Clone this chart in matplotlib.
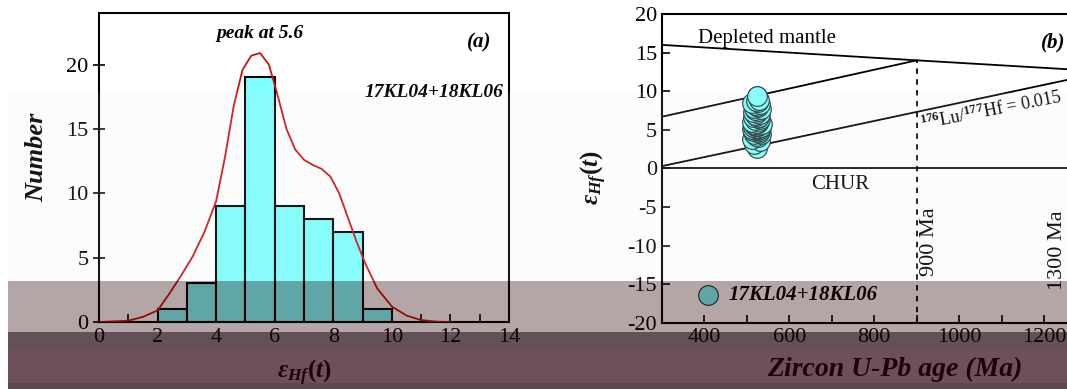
import matplotlib
matplotlib.use("Agg")
import matplotlib.pyplot as plt
from matplotlib.patches import Rectangle
from matplotlib.ticker import MultipleLocator

plt.rcParams['font.family'] = ['Liberation Serif', 'DejaVu Serif']
plt.rcParams['axes.unicode_minus'] = False
plt.rcParams['mathtext.fontset'] = 'custom'
plt.rcParams['mathtext.it'] = 'Liberation Serif:italic:bold'
plt.rcParams['mathtext.rm'] = 'Liberation Serif:bold'
plt.rcParams['mathtext.bf'] = 'Liberation Serif:bold'

# zircon eHf(t) values (17KL04 + 18KL06)
eps_hf = [2.7,
          3.2, 3.5, 3.8,
          4.1, 4.2, 4.4, 4.5, 4.6, 4.7, 4.8, 4.9, 4.95,
          5.0, 5.05, 5.1, 5.15, 5.2, 5.25, 5.3, 5.35, 5.4, 5.45,
          5.5, 5.55, 5.6, 5.65, 5.7, 5.75, 5.8, 5.85, 5.9,
          6.05, 6.15, 6.3, 6.4, 6.5, 6.6, 6.7, 6.8, 6.9,
          7.1, 7.2, 7.35, 7.5, 7.6, 7.7, 7.8, 7.9,
          8.1, 8.2, 8.35, 8.5, 8.6, 8.75, 8.9,
          9.4]
# U-Pb ages (Ma)
ages = [524, 517, 530, 513, 526, 521, 534, 516, 528, 523,
        515, 532, 520, 527, 512, 525, 531, 518, 529, 522,
        514, 533, 519, 526, 524, 516, 530, 521, 535, 517,
        527, 523, 513, 529, 520, 532, 525, 515, 528, 522,
        518, 531, 524, 514, 527, 520, 533, 516, 526, 523,
        519, 530, 512, 525, 521, 529, 524]
hist_bins = [2, 3, 4, 5, 6, 7, 8, 9, 10]

# probability density curve
kde_x = [0, 1.0, 1.5, 2.0, 2.4, 2.8, 3.2, 3.6, 4.0, 4.3, 4.6, 4.9, 5.2, 5.5,
         5.8, 6.1, 6.4, 6.7, 7.0, 7.3, 7.6, 7.9, 8.2, 8.5, 8.8, 9.1, 9.5,
         10.0, 10.5, 11.0, 11.5, 12.0]
kde_y = [0, 0.1, 0.4, 0.9, 2.2, 3.6, 5.1, 7.0, 9.4, 12.8, 16.8, 19.6, 20.7,
         20.9, 20.0, 17.6, 15.0, 13.4, 12.6, 12.2, 11.9, 11.3, 10.0, 8.1,
         6.2, 4.5, 2.6, 1.2, 0.5, 0.15, 0.03, 0]

# evolution lines, panel b
dm_age = [300, 900, 1300]
dm_eps = [16.0, 14.0, 12.7]
crust1_age = [300, 900]
crust1_eps = [6.7, 14.0]
crust2_age = [300, 1300]
crust2_eps = [0.3, 12.0]
model_age1 = 900
model_age2 = 1300

fig = plt.figure(figsize=(10.67, 3.89), dpi=100)

# ---------------- (a) histogram ----------------
ax1 = fig.add_axes([0.0928, 0.1722, 0.3843, 0.794])
ax1.hist(eps_hf, bins=hist_bins, facecolor='#80FFFF', edgecolor='black',
         linewidth=1.5, zorder=2)
ax1.plot(kde_x, kde_y, color='#CC1111', lw=1.3, zorder=3)
ax1.set_xlim(0, 14)
ax1.set_ylim(0, 24)
ax1.set_xticks([0, 2, 4, 6, 8, 10, 12, 14])
ax1.set_yticks([0, 5, 10, 15, 20])
ax1.xaxis.set_minor_locator(MultipleLocator(1))
ax1.tick_params(axis='x', which='both', direction='in', labelsize=16,
                length=6, width=1.2, pad=4)
ax1.tick_params(axis='y', direction='inout', labelsize=16, length=9,
                width=1.2, pad=3)
for s in ax1.spines.values():
    s.set_linewidth(1.5)
ax1.set_xlabel(r'$\varepsilon_{Hf}(t)$', fontsize=18, labelpad=8)
ax1.set_ylabel('Number', fontsize=19, fontweight='bold', style='italic')
ax1.yaxis.set_label_coords(-0.125, 0.534)
ax1.text(5.5, 22.4, 'peak at 5.6', ha='center', va='center', fontsize=14,
         fontweight='bold', style='italic')
ax1.text(13.4, 21.7, '(a)', ha='right', va='center', fontsize=15,
         fontweight='bold', style='italic')
ax1.text(13.8, 17.8, '17KL04+18KL06', ha='right', va='center', fontsize=14,
         fontweight='bold', style='italic')

# ---------------- (b) eHf(t) vs age ----------------
ax2 = fig.add_axes([0.6204, 0.170, 0.398, 0.794])
ax2.plot(dm_age, dm_eps, color='black', lw=1.3)
ax2.plot(crust1_age, crust1_eps, color='black', lw=1.3)
ax2.plot(crust2_age, crust2_eps, color='black', lw=1.3)
ax2.axhline(0, color='black', lw=1.3)
ax2.plot([model_age1, model_age1], [-20, dm_eps[1]], color='black', lw=1.3,
         ls=(0, (3, 3)))
ax2.plot([model_age2, model_age2], [-20, dm_eps[2]], color='black', lw=1.3,
         ls=(0, (3, 3)))
ax2.scatter(ages, eps_hf, s=200, facecolor='#80FFFF', edgecolor='#1A3333',
            linewidth=0.8, zorder=4, label='17KL04+18KL06')
ax2.set_xlim(300, 1300)
ax2.set_ylim(-20, 20)
ax2.set_xticks([400, 600, 800, 1000, 1200])
ax2.set_yticks([-20, -15, -10, -5, 0, 5, 10, 15, 20])
ax2.xaxis.set_minor_locator(MultipleLocator(100))
ax2.tick_params(axis='both', which='both', direction='in', labelsize=16,
                length=6, width=1.2)
for s in ax2.spines.values():
    s.set_linewidth(1.5)
ax2.set_xlabel('Zircon U-Pb age (Ma)', fontsize=20, fontweight='bold',
               style='italic')
ax2.xaxis.set_label_coords(0.548, -0.11)
ax2.set_ylabel(r'$\varepsilon_{Hf}(t)$', fontsize=18)
ax2.yaxis.set_label_coords(-0.125, 0.47)
ax2.text(385, 16.8, 'Depleted mantle', ha='left', va='center', fontsize=15)
ax2.text(1222, 16.3, '(b)', ha='center', va='center', fontsize=15,
         fontweight='bold', style='italic')
ax2.text(720, -2.1, 'CHUR', ha='center', va='center', fontsize=15)
ax2.text(930, -9.5, '900 Ma', ha='center', va='center', rotation=90,
         fontsize=16)
ax2.text(1232, -10.6, '1300 Ma', ha='center', va='center', rotation=90,
         fontsize=16)
ax2.text(912, 5.0, r'$^{176}$Lu/$^{177}$Hf = 0.015', ha='left',
         va='baseline', rotation=11, rotation_mode='anchor', fontsize=13)
leg = ax2.legend(loc='lower left', bbox_to_anchor=(0.04, 0.03), frameon=False,
                 handletextpad=0.0, borderaxespad=0.0,
                 prop={'size': 15, 'weight': 'bold', 'style': 'italic'})

# scanned-image tone bands
H = 389.0
bands = [(93, 281, '#D8E4D8', 0.10),
         (281, 332, '#280000', 0.35),
         (332, 348, '#1E010D', 0.69),
         (348, 383, '#2D0110', 0.69),
         (383, 389, '#1E010D', 0.72)]
for top, bot, col, a in bands:
    fig.patches.append(Rectangle((8 / 1067.0, 1 - bot / H),
                                 1 - 8 / 1067.0, (bot - top) / H,
                                 transform=fig.transFigure, facecolor=col,
                                 alpha=a, edgecolor='none', zorder=10))

fig.savefig('out.png', dpi=100)
